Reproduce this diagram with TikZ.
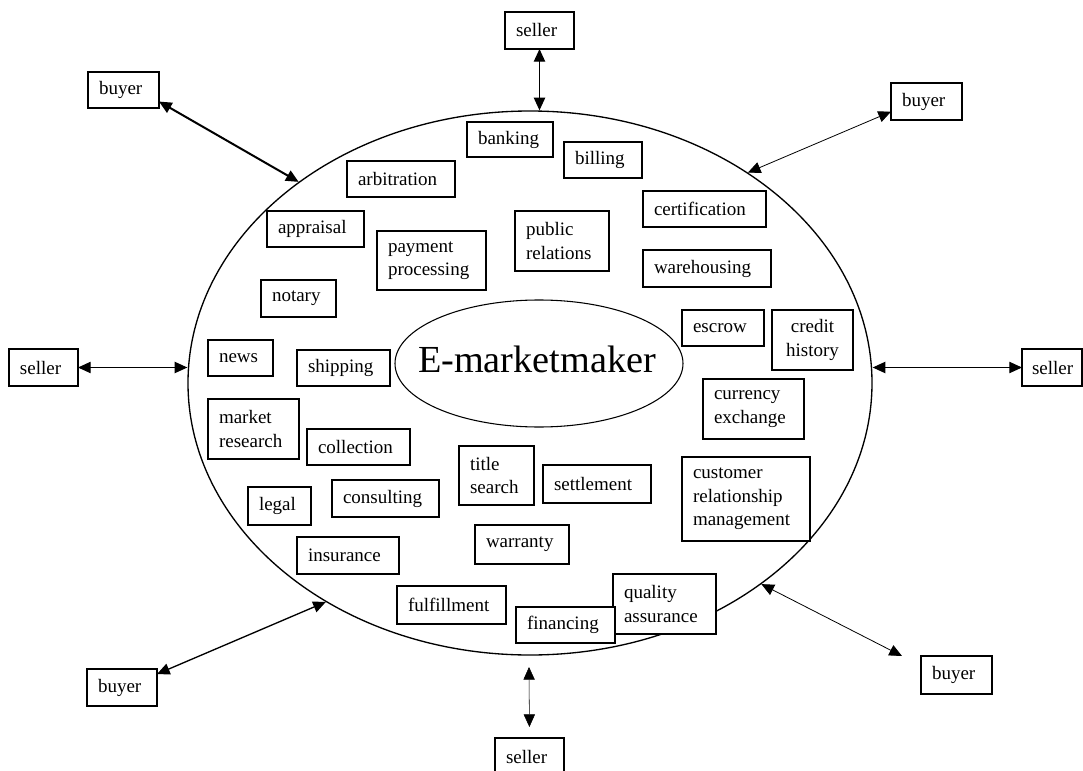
\documentclass[tikz,border=0pt]{standalone}
\usepackage{fontspec}
\setmainfont{Liberation Serif}
\usepackage{tikz}
\usetikzlibrary{
  arrows.meta,
  shapes.geometric
}
\newlength\pxu
\setlength\pxu{0.75pt}

\tikzset{
  svc/.style={rectangle,draw=black,fill=white,line width=1.2pt,anchor=north west,
    outer sep=0pt,inner xsep=11\pxu,inner ysep=2\pxu,align=left,
    font=\fontsize{14.25pt}{17.5pt}\selectfont},
  link/.style={{Triangle[length=9.5pt,width=8.5pt]}-{Triangle[length=9.5pt,width=8.5pt]}}
}

\begin{document}
\begin{tikzpicture}[x=0.75pt,y=-0.75pt]
  \useasboundingbox (0,0) rectangle (1083,771);
  % the market and its hub
  \node[draw,ellipse,line width=1pt,minimum width=684\pxu,minimum height=544\pxu,inner sep=0pt] (market) at (530,383) {};
  \node[draw,ellipse,line width=0.8pt,minimum width=288\pxu,minimum height=127\pxu,inner sep=0pt,
    label={[font=\fontsize{28.7pt}{30pt}\selectfont,xshift=-2\pxu,yshift=4\pxu]center:E-marketmaker}] (hub) at (539,363.5) {};
  % services inside the market
  \node[svc,text width=64\pxu,minimum height=35\pxu] (banking) at (467,122) {banking};
  \node[svc,text width=56\pxu,minimum height=36\pxu] (billing) at (564,142) {billing};
  \node[svc,text width=86\pxu,minimum height=36\pxu] (arbitration) at (347,161) {arbitration};
  \node[svc,text width=101\pxu,minimum height=36\pxu] (certification) at (643,191) {certification};
  \node[svc,text width=75\pxu,minimum height=36\pxu] (appraisal) at (267,211) {appraisal};
  \node[svc,text width=87\pxu,minimum height=59\pxu] (payment) at (377,231) {payment\\processing};
  \node[svc,text width=72\pxu,minimum height=60\pxu] (relations) at (515,211) {public\\relations};
  \node[svc,text width=106\pxu,minimum height=37\pxu] (warehousing) at (643,250) {warehousing};
  \node[svc,text width=53\pxu,minimum height=37\pxu] (notary) at (261,280) {notary};
  \node[svc,text width=60\pxu,minimum height=36\pxu] (escrow) at (682,310) {escrow};
  \node[svc,align=center,text width=59\pxu,minimum height=60\pxu] (credit) at (772,310) {credit\\history};
  \node[svc,text width=43\pxu,minimum height=36\pxu] (news) at (208,340) {news};
  \node[svc,text width=71\pxu,minimum height=36\pxu] (shipping) at (297,350) {shipping};
  \node[svc,text width=69\pxu,minimum height=60\pxu] (research) at (208,399) {market\\research};
  \node[svc,text width=81\pxu,minimum height=36\pxu] (collection) at (307,429) {collection};
  \node[svc,text width=79\pxu,minimum height=60\pxu] (currency) at (703,379) {currency\\exchange};
  \node[svc,text width=53\pxu,minimum height=59\pxu] (title) at (459,446) {title\\search};
  \node[svc,text width=86\pxu,minimum height=38\pxu] (settlement) at (543,465) {settlement};
  \node[svc,text width=106\pxu,minimum height=84\pxu] (crm) at (682,457) {customer\\relationship\\management};
  \node[svc,text width=41\pxu,minimum height=38\pxu] (legal) at (248,487) {legal};
  \node[svc,text width=85\pxu,minimum height=37\pxu] (consulting) at (332,480) {consulting};
  \node[svc,text width=80\pxu,minimum height=37\pxu] (insurance) at (297,537) {insurance};
  \node[svc,text width=72\pxu,minimum height=39\pxu] (warranty) at (475,525) {warranty};
  \node[svc,text width=81\pxu,minimum height=60\pxu] (quality) at (613,574) {quality\\assurance};
  \node[svc,text width=87\pxu,minimum height=38\pxu] (fulfillment) at (397,586) {fulfillment};
  \node[svc,text width=77\pxu,minimum height=36\pxu] (financing) at (516,607) {financing};
  % buyers and sellers outside
  \node[svc,text width=47\pxu,minimum height=37\pxu] (sellertop) at (505,12) {seller};
  \node[svc,text width=49\pxu,minimum height=36\pxu] (buyertl) at (88,72) {buyer};
  \node[svc,text width=49\pxu,minimum height=37\pxu] (buyertr) at (891,83) {buyer};
  \node[svc,text width=47\pxu,minimum height=37\pxu] (sellerl) at (9,349) {seller};
  \node[svc,inner xsep=10\pxu,text width=40\pxu,minimum height=37\pxu] (sellerr) at (1022,349) {seller};
  \node[svc,text width=48\pxu,minimum height=37\pxu] (buyerbl) at (87,669) {buyer};
  \node[svc,text width=49\pxu,minimum height=38\pxu] (buyerbr) at (921,656) {buyer};
  \node[svc,text width=47\pxu,minimum height=37\pxu] (sellerbot) at (495,738) {seller};
  \coordinate (brtip) at (902,656);
  \coordinate (sbtop) at (529,667);
  % links
  \draw[link,line width=1pt] (sellertop.south) -- (sellertop.south |- market.north);
  \draw[link,line width=1.5pt] (buyertl.-18) -- (market.139);
  \draw[link,line width=0.6pt] (buyertr.196) -- (market.44);
  \draw[link,line width=0.8pt] (sellerl.east) -- (sellerl.east -| market.west);
  \draw[link,line width=0.8pt] (sellerr.west) -- (sellerr.west -| market.east);
  \draw[link,line width=1pt] (buyerbl.21) -- (market.227);
  \draw[link,line width=0.6pt] (market.319) -- (brtip);
  \draw[link,line width=0.4pt,shorten <=11\pxu] (sellerbot.north) -- (sbtop);
\end{tikzpicture}
\end{document}
